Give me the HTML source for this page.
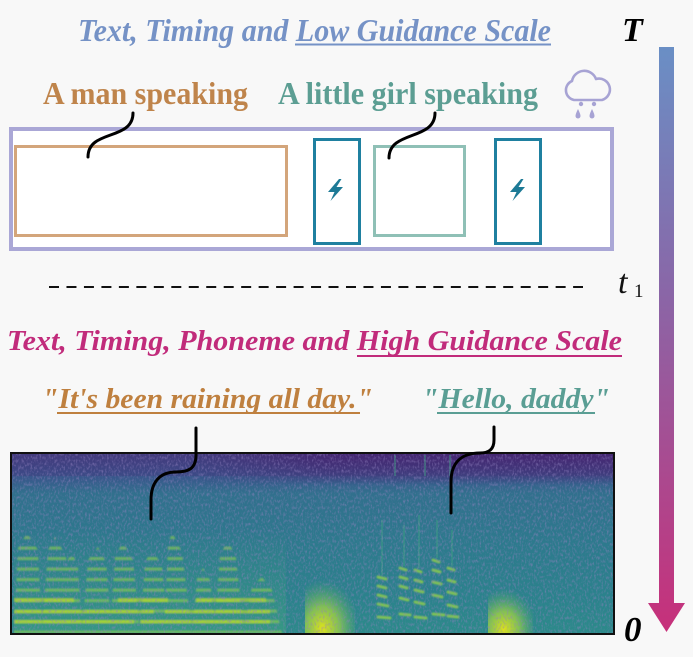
<!DOCTYPE html>
<html><head><meta charset="utf-8"><style>
html,body{margin:0;padding:0;background:#f8f8f8;}
svg{display:block;}
text{font-family:"Liberation Serif",serif;}
</style></head><body>
<svg width="693" height="657" viewBox="0 0 693 657" xmlns="http://www.w3.org/2000/svg">
<defs>
<linearGradient id="arr" gradientUnits="userSpaceOnUse" x1="0" y1="47" x2="0" y2="632">
<stop offset="0" stop-color="#6a8fc5"/><stop offset="0.42" stop-color="#8a66a7"/><stop offset="1" stop-color="#c7307a"/>
</linearGradient>
<linearGradient id="spb" gradientUnits="userSpaceOnUse" x1="0" y1="454" x2="0" y2="633">
<stop offset="0" stop-color="#443a7e"/><stop offset="0.1" stop-color="#3b4f8a"/><stop offset="0.22" stop-color="#31708d"/>
<stop offset="0.5" stop-color="#2d7a8d"/><stop offset="0.8" stop-color="#2b828c"/><stop offset="1" stop-color="#2c8a8a"/>
</linearGradient>
<linearGradient id="topd" gradientUnits="userSpaceOnUse" x1="0" y1="454" x2="0" y2="485">
<stop offset="0" stop-color="#47186a" stop-opacity="0.85"/><stop offset="0.6" stop-color="#46226e" stop-opacity="0.45"/><stop offset="1" stop-color="#46226e" stop-opacity="0"/>
</linearGradient>
<linearGradient id="topm" gradientUnits="userSpaceOnUse" x1="200" y1="0" x2="330" y2="0">
<stop offset="0" stop-color="#fff" stop-opacity="0"/><stop offset="1" stop-color="#fff" stop-opacity="1"/>
</linearGradient>
<mask id="tm"><rect x="12" y="454" width="601" height="40" fill="url(#topm)"/></mask>
<linearGradient id="seg" gradientUnits="userSpaceOnUse" x1="0" y1="530" x2="0" y2="633">
<stop offset="0" stop-color="#3a9a82" stop-opacity="0"/><stop offset="1" stop-color="#3ea27e" stop-opacity="0.55"/>
</linearGradient>
<pattern id="hs" patternUnits="userSpaceOnUse" x="0" y="599" width="6" height="10.5">
<rect y="0" width="6" height="3.2" fill="#8fd14a"/>
</pattern>
<radialGradient id="b1" cx="0.35" cy="0.9" r="0.75">
<stop offset="0" stop-color="#dfe31a"/><stop offset="0.45" stop-color="#9ed440" stop-opacity="0.75"/><stop offset="1" stop-color="#4fb26a" stop-opacity="0"/>
</radialGradient>
<filter id="nz" x="0" y="0" width="100%" height="100%">
<feTurbulence type="fractalNoise" baseFrequency="0.55 0.3" numOctaves="2" seed="5"/>
<feColorMatrix type="matrix" values="0 0 0 0 0.28  0 0 0 0 0.22  0 0 0 0 0.52  2.6 0 0 0 -1.2"/>
</filter>
<filter id="bl" x="-10%" y="-10%" width="120%" height="120%"><feGaussianBlur stdDeviation="0.8"/></filter>
<clipPath id="spc"><rect x="12" y="454" width="601" height="179"/></clipPath>
</defs>

<!-- Title 1 -->
<text x="78" y="41" font-size="32" font-weight="bold" font-style="italic" fill="#7592c6" textLength="473" lengthAdjust="spacingAndGlyphs">Text, Timing and Low Guidance Scale</text>
<line x1="295" y1="44.5" x2="551" y2="44.5" stroke="#7592c6" stroke-width="2"/>

<text x="622" y="41" font-size="34" font-weight="bold" font-style="italic" fill="#000">T</text>

<!-- arrow -->
<rect x="659" y="47" width="15" height="558" fill="url(#arr)"/>
<polygon points="648,603 685,603 666.5,632" fill="url(#arr)"/>

<!-- labels -->
<text x="43" y="104" font-size="32" font-weight="bold" fill="#bf844b" textLength="205" lengthAdjust="spacingAndGlyphs">A man speaking</text>
<text x="278" y="104" font-size="32" font-weight="bold" fill="#5c9e93" textLength="260" lengthAdjust="spacingAndGlyphs">A little girl speaking</text>

<!-- cloud -->
<g fill="none" stroke="#a7a3d4" stroke-width="2.6" stroke-linejoin="round">
<path d="M574,100 A10,10 0 0 1 572,81 A12.5,12.5 0 0 1 596,79 A10.5,10.5 0 0 1 602,100 Z"/>
</g>
<g fill="#a7a3d4">
<circle cx="581" cy="104" r="2.2"/><circle cx="594" cy="104" r="2.2"/>
<path d="M578,109 Q575.5,114 575.5,116 A2.5,2.5 0 0 0 580.5,116 Q580.5,114 578,109 Z"/>
<path d="M592,109 Q589.5,114 589.5,116 A2.5,2.5 0 0 0 594.5,116 Q594.5,114 592,109 Z"/>
</g>

<!-- main box -->
<rect x="11" y="129" width="601" height="120" fill="#fff" stroke="#aaa7d6" stroke-width="4"/>
<rect x="15.5" y="146.5" width="271" height="89" fill="#fff" stroke="#d3a57b" stroke-width="3"/>
<rect x="314.5" y="139.5" width="45" height="104" fill="#fff" stroke="#1f80a0" stroke-width="3"/>
<rect x="374.5" y="146.5" width="90" height="89" fill="#fff" stroke="#8fc0b6" stroke-width="3"/>
<rect x="495.5" y="139.5" width="45" height="104" fill="#fff" stroke="#1f80a0" stroke-width="3"/>
<path d="M339,179 L328,192 L334.5,192 L330.5,201 L343,187 L336.5,187 L341.5,179 Z" fill="#1d7a96"/>
<path d="M521,179 L510,192 L516.5,192 L512.5,201 L525,187 L518.5,187 L523.5,179 Z" fill="#1d7a96"/>

<!-- squiggles -->
<g fill="none" stroke="#000" stroke-width="3" stroke-linecap="round">
<path d="M133,113 C133,141 88,129 88,157"/>
<path d="M435,113 C435,141 389,130 389,158"/>
</g>

<!-- dashed -->
<line x1="49" y1="287" x2="583" y2="287" stroke="#111" stroke-width="2" stroke-dasharray="10 7.47"/>
<text x="618" y="293" font-size="34" font-style="italic" fill="#111">t</text>
<text x="634" y="297" font-size="19" fill="#111">1</text>

<!-- Title 2 -->
<text x="7" y="350" font-size="29" font-weight="bold" font-style="italic" fill="#c12b7b" textLength="615" lengthAdjust="spacingAndGlyphs">Text, Timing, Phoneme and High Guidance Scale</text>
<line x1="357" y1="356" x2="622" y2="356" stroke="#c12b7b" stroke-width="2"/>

<!-- quotes -->
<text x="42" y="408" font-size="29" font-weight="bold" font-style="italic" fill="#bf803f" textLength="331" lengthAdjust="spacingAndGlyphs">"It's been raining all day."</text>
<line x1="57" y1="413" x2="360" y2="413" stroke="#bf803f" stroke-width="2"/>
<text x="422" y="408" font-size="29" font-weight="bold" font-style="italic" fill="#5a9e94" textLength="188" lengthAdjust="spacingAndGlyphs">"Hello, daddy"</text>
<line x1="437" y1="413" x2="595" y2="413" stroke="#5a9e94" stroke-width="2"/>

<!-- spectrogram -->
<g clip-path="url(#spc)">
<rect x="12" y="454" width="601" height="179" fill="url(#spb)"/>
<rect x="12" y="454" width="601" height="32" fill="url(#topd)" mask="url(#tm)"/>
<rect x="12" y="454" width="601" height="22" fill="#433a7c" opacity="0.35"/>
<rect x="14" y="530" width="272" height="103" fill="url(#seg)"/>
<g fill="url(#hs)" opacity="0.6" filter="url(#bl)">
<polygon points="14,633 18,548 27,533 38,550 42,633"/>
<polygon points="42,633 48,550 55,537 66,556 72,633"/>
<polygon points="62,633 66,562 72,553 78,566 82,633"/>
<polygon points="82,633 88,560 98,547 106,562 112,633"/>
<polygon points="110,633 115,556 123,542 133,560 140,633"/>
<polygon points="140,633 145,562 152,550 162,565 168,633"/>
<polygon points="164,633 168,545 172,532 182,552 192,633"/>
<polygon points="192,633 197,578 203,568 210,580 216,633"/>
<polygon points="214,633 220,555 228,540 236,558 244,633"/>
<polygon points="244,633 252,586 262,577 272,590 282,633"/>
</g>
<g fill="#c8e024" opacity="0.6" filter="url(#bl)">
<rect x="14" y="598" width="60" height="4"/><rect x="118" y="598" width="50" height="4"/><rect x="196" y="598" width="70" height="4"/>
<rect x="14" y="610" width="140" height="3.5"/><rect x="165" y="610" width="105" height="3.5"/>
<rect x="14" y="620" width="120" height="3.5"/><rect x="140" y="620" width="130" height="3.5"/>
</g>
<rect x="305" y="570" width="50" height="65" fill="url(#b1)"/>
<rect x="488" y="580" width="45" height="55" fill="url(#b1)"/>
<g stroke="#9ad744" stroke-width="3" opacity="0.75" stroke-linecap="round" filter="url(#bl)">
<line x1="378" y1="577" x2="386" y2="579"/><line x1="378" y1="586" x2="386" y2="588"/><line x1="378" y1="595" x2="386" y2="597"/><line x1="378" y1="604" x2="388" y2="606"/><line x1="378" y1="617" x2="390" y2="618"/>
<line x1="400" y1="568" x2="406" y2="570"/><line x1="400" y1="577" x2="407" y2="579"/><line x1="400" y1="586" x2="407" y2="588"/><line x1="400" y1="598" x2="408" y2="600"/><line x1="400" y1="614" x2="410" y2="615"/>
<line x1="415" y1="570" x2="421" y2="572"/><line x1="415" y1="580" x2="422" y2="582"/><line x1="415" y1="590" x2="423" y2="592"/><line x1="415" y1="602" x2="424" y2="604"/><line x1="415" y1="617" x2="426" y2="618"/>
<line x1="433" y1="560" x2="439" y2="562"/><line x1="433" y1="570" x2="440" y2="572"/><line x1="433" y1="582" x2="441" y2="584"/><line x1="433" y1="595" x2="442" y2="597"/><line x1="433" y1="614" x2="444" y2="615"/>
<line x1="448" y1="568" x2="454" y2="570"/><line x1="448" y1="580" x2="455" y2="582"/><line x1="448" y1="592" x2="456" y2="594"/><line x1="448" y1="605" x2="457" y2="607"/><line x1="448" y1="616" x2="458" y2="617"/>
</g>
<g stroke="#3fa184" stroke-width="2" opacity="0.45">
<line x1="382" y1="520" x2="382" y2="575"/><line x1="404" y1="525" x2="404" y2="566"/><line x1="419" y1="515" x2="419" y2="568"/><line x1="437" y1="520" x2="437" y2="558"/><line x1="452" y1="530" x2="452" y2="566"/>
<line x1="395" y1="455" x2="395" y2="476"/><line x1="425" y1="455" x2="425" y2="476"/><line x1="450" y1="455" x2="450" y2="476"/>
</g>
<rect x="12" y="454" width="601" height="179" filter="url(#nz)" opacity="0.55"/>
</g>
<rect x="11" y="453" width="603" height="181" fill="none" stroke="#111" stroke-width="2"/>

<!-- connector lines -->
<g fill="none" stroke="#000" stroke-width="3" stroke-linecap="round">
<path d="M196,428 L196,455 C196,469 188,472 176,472 C160,472 151,482 151,500 L151,519"/>
<path d="M494,427 L494,440 C494,450 488,453 480,453 C462,453 451,462 451,482 L451,513"/>
</g>

<text x="624" y="641" font-size="35" font-weight="bold" font-style="italic" fill="#000">0</text>
</svg>
</body></html>
